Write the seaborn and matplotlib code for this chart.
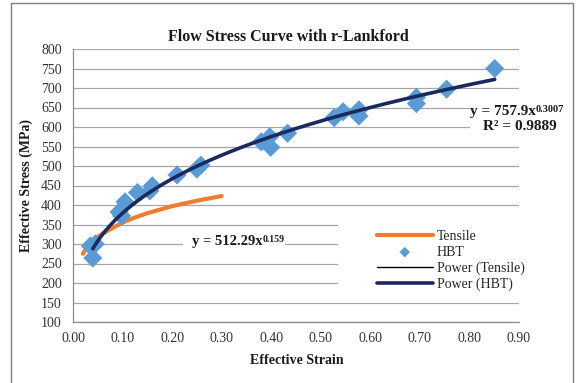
import numpy as np
import pandas as pd
import matplotlib
matplotlib.use("Agg")
import matplotlib.pyplot as plt
from matplotlib.patches import Rectangle
import seaborn as sns

# Tensile test flow curve (effective strain, effective stress in MPa)
tensile_strain = [0.020, 0.025, 0.030, 0.040, 0.050, 0.060, 0.080, 0.100,
                  0.125, 0.150, 0.175, 0.200, 0.250, 0.300]
tensile_stress = [275, 285, 293, 307, 318, 327, 341, 355,
                  368, 379, 388, 397, 411, 423]

# Hydraulic bulge test points
hbt_strain = [0.035, 0.045, 0.040, 0.093, 0.098, 0.105, 0.130, 0.155,
              0.160, 0.210, 0.250, 0.258, 0.380, 0.397, 0.399, 0.433,
              0.527, 0.545, 0.577, 0.577, 0.693, 0.693, 0.754, 0.851]
hbt_stress = [295, 300, 264, 382, 372, 408, 432, 436,
              449, 477, 492, 502, 562, 575, 548, 584,
              624, 639, 644, 628, 676, 660, 697, 750]

# Power-law trendlines  sigma = K * eps^n
tensile_K, tensile_n = 512.29, 0.159
hbt_K, hbt_n = 757.9, 0.3007
hbt_r2 = 0.9889

x_ticks = [0.00, 0.10, 0.20, 0.30, 0.40, 0.50, 0.60, 0.70, 0.80, 0.90]
y_ticks = list(range(100, 801, 50))

sns.set_theme(style="white")
plt.rcParams["font.family"] = ["Liberation Serif", "DejaVu Serif"]

W, H = 576, 383
fig = plt.figure(figsize=(W / 100, H / 100), dpi=100)
fig.patch.set_facecolor("white")
L, R, T, B = 73, 519, 49, 322
ax = fig.add_axes([L / W, 1 - B / H, (R - L) / W, (B - T) / H])
ax.set_facecolor("white")

orange = "#ED7D31"
blue = "#5B9BD5"
navy = "#1B2A5E"
ink = "#1a1a1a"

tens_df = pd.DataFrame({"strain": tensile_strain, "stress": tensile_stress})
hbt_df = pd.DataFrame({"strain": hbt_strain, "stress": hbt_stress})

xt = np.linspace(min(tensile_strain), max(tensile_strain), 200)
xh = np.linspace(0.040, max(hbt_strain), 300)
fit_t = pd.DataFrame({"strain": xt, "stress": tensile_K * xt ** tensile_n})
fit_h = pd.DataFrame({"strain": xh, "stress": hbt_K * xh ** hbt_n})

sns.lineplot(data=fit_t, x="strain", y="stress", color="black", lw=1.0,
             ax=ax, label="Power (Tensile)", zorder=2, estimator=None, sort=False)
sns.lineplot(data=tens_df, x="strain", y="stress", color=orange, lw=3.0,
             ax=ax, label="Tensile", zorder=3, estimator=None, sort=False)
sns.scatterplot(data=hbt_df, x="strain", y="stress", marker="D", s=95,
                color=blue, edgecolor="none", ax=ax, label="HBT", zorder=4)
sns.lineplot(data=fit_h, x="strain", y="stress", color=navy, lw=2.6,
             ax=ax, label="Power (HBT)", zorder=5, estimator=None, sort=False)

ax.set_xlim(0, 0.9)
ax.set_ylim(100, 800)
ax.set_xticks(x_ticks)
ax.set_xticklabels([f"{v:.2f}" for v in x_ticks])
ax.set_yticks(y_ticks)
ax.set_xlabel("")
ax.set_ylabel("")
ax.yaxis.grid(True, color="#a6a6a6", lw=0.9)
ax.xaxis.grid(False)
ax.set_axisbelow(True)
for s in ["top", "right"]:
    ax.spines[s].set_visible(False)
for s in ["left", "bottom"]:
    ax.spines[s].set_color("#8c8c8c")
    ax.spines[s].set_linewidth(0.9)
ax.tick_params(axis="both", direction="out", length=4, width=0.8,
               color="#8c8c8c", labelsize=10, labelcolor="#333333")
ax.tick_params(axis="y", pad=4)
ax.tick_params(axis="x", pad=3)


def to_ax(px, py):
    return (px - L) / (R - L), 1 - (py - T) / (B - T)


def blank(x0, y0, x1, y1):
    """White block hiding the gridlines under a label."""
    ax0, ay1 = to_ax(x0, y1)
    ax.add_patch(Rectangle((ax0, ay1), (x1 - x0) / (R - L), (y1 - y0) / (B - T),
                           transform=ax.transAxes, facecolor="white",
                           edgecolor="none", zorder=1))


# legend area
blank(338, 212, R, 298)
handles, labels = ax.get_legend_handles_labels()
order = [labels.index(n) for n in ["Tensile", "HBT", "Power (Tensile)", "Power (HBT)"]]
ax.legend([handles[i] for i in order], [labels[i] for i in order],
          loc="upper left", bbox_to_anchor=to_ax(377, 230),
          frameon=False, borderpad=0, borderaxespad=0, fontsize=10,
          handlelength=4.0, handletextpad=0.3, labelspacing=0.2,
          markerscale=0.55)


def power_label(x_left, y_mid, coef, expo, size):
    base = fig.text(x_left / W, 1 - y_mid / H, f"y = {coef}x", ha="left",
                    va="center", fontsize=size, fontweight="bold", color=ink,
                    zorder=6)
    ax.annotate(f"{expo}", xy=(1.0, 1.0), xycoords=base, ha="left",
                va="top", fontsize=size * 0.68, fontweight="bold", color=ink,
                annotation_clip=False, zorder=6)
    return base


# trendline equations
blank(183, 231, 285, 250)
power_label(192, 241, tensile_K, tensile_n, 10.5)

blank(470, 100, R, 137)
power_label(470, 111, hbt_K, hbt_n, 11)
fig.text(519.5 / W, 1 - 126 / H, f"R² = {hbt_r2}", fontweight="bold",
         ha="center", va="center", fontsize=11, color=ink)

fig.text(288 / W, 1 - 37 / H, "Flow Stress Curve with r-Lankford",
         ha="center", va="center", fontsize=11.5, fontweight="bold", color=ink)
fig.text(26 / W, 1 - 185.5 / H, "Effective Stress (MPa)", rotation=90,
         ha="center", va="center", fontsize=10, fontweight="bold", color=ink)
fig.text(297 / W, 1 - 361 / H, "Effective Strain",
         ha="center", va="center", fontsize=10, fontweight="bold", color=ink)

# outer chart frame
fig.add_artist(Rectangle((10.5 / W, -0.05), (572.5 - 10.5) / W, 1.05 - 2.5 / H,
                         transform=fig.transFigure, fill=False,
                         edgecolor="#7f7f7f", lw=1.0))

fig.savefig("out.png", dpi=100)
